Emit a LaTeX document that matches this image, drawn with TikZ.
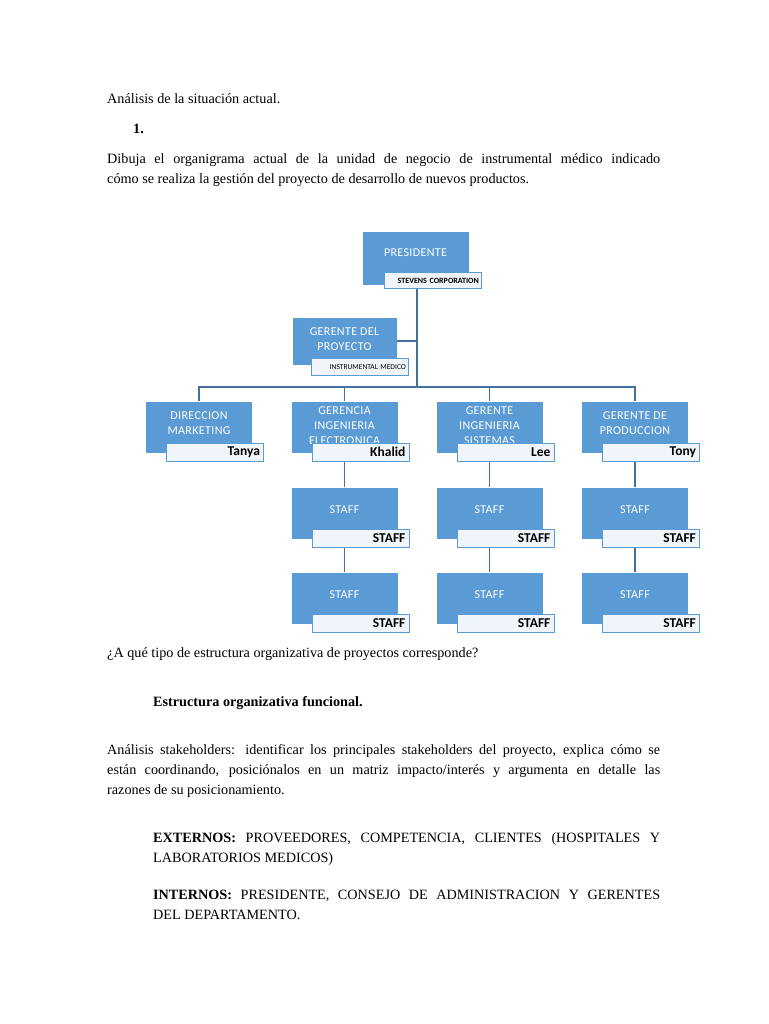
\documentclass[tikz,border=0pt]{standalone}
\usepackage{fontspec}
\setmainfont{Liberation Serif}
\newfontfamily\boxfont[LetterSpace=3]{Carlito}
\newfontfamily\namefont{Carlito}
\usetikzlibrary{positioning}
\definecolor{orgblue}{RGB}{91,155,213}
\definecolor{linkblue}{RGB}{65,113,156}
\definecolor{namefill}{RGB}{240,245,251}

\begin{document}
\begin{tikzpicture}[x=1pt, y=-1pt,
  orgbox/.style={fill=orgblue, draw=white, line width=0.6pt, minimum width=107pt, minimum height=52pt, inner sep=0pt},
  boxtxt/.style={text=white, font=\boxfont\fontsize{12}{15}\selectfont, align=center, inner sep=0pt},
  namebox/.style={draw=orgblue, fill=namefill, line width=0.8pt, anchor=north east, minimum height=18pt, text width=90pt, inner xsep=3.5pt, inner ysep=0pt, align=right, font=\namefont\bfseries\fontsize{13.5}{13.5}\selectfont},
  smallname/.style={namebox, minimum height=16pt, inner xsep=2pt, text width=93pt, font=\namefont\bfseries\fontsize{8}{8}\selectfont},
  link/.style={draw=linkblue, line width=1.3pt},
  para/.style={anchor=base west, inner sep=0pt, text width=553pt, align=justify, font=\fontsize{14.2}{20}\selectfont}]
  \fill[white] (0,0) rectangle (768,1024);
  \useasboundingbox (0,0) rectangle (768,1024);

  % Text above the chart
  \node (intro) [para] at (107,104) {Análisis de la situación actual.};
  \node (num) [anchor=base west, inner sep=0pt, font=\bfseries\fontsize{14.2}{20}\selectfont] at (133,134) {1.};
  \node (q1) [para] at (107,164) {Dibuja el organigrama actual de la unidad de negocio de instrumental médico indicado\linebreak cómo se realiza la gestión del proyecto de desarrollo de nuevos productos.};

  % Boxes of the chart
  \node (pres) [orgbox, minimum height=54pt] at (415.5,258) {};
  \node (gproy) [orgbox, minimum width=105pt, minimum height=48pt] at (344.5,341) {};
  \node (dirmkt) [orgbox] at (199,427.5) {};
  \node (gelec) [orgbox] at (344.5,427.5) {};
  \node (gsis) [orgbox] at (489.5,427.5) {};
  \node (gprod) [orgbox] at (635,427.5) {};
  \foreach \col/\x in {A/344.5,B/489.5,C/635} {
    \node (s\col1) [orgbox] at (\x,513.5) {};
    \node (s\col2) [orgbox] at (\x,598.5) {};
    \node (s\col1-t) [boxtxt] at ([yshift=4pt]s\col1.center) {STAFF};
    \node (s\col2-t) [boxtxt] at ([yshift=4pt]s\col2.center) {STAFF};
  }

  \node (pres-t) [boxtxt] at ([yshift=5pt]pres.center) {PRESIDENTE};
  \node (gproy-t) [boxtxt] at ([yshift=2pt]gproy.center) {GERENTE DEL\\PROYECTO};
  \node (dirmkt-t) [boxtxt] at ([yshift=4pt]dirmkt.center) {DIRECCION\\MARKETING};
  \node (gelec-t) [boxtxt] at ([yshift=2pt]gelec.center) {GERENCIA\\INGENIERIA\\ELECTRONICA};
  \node (gsis-t) [boxtxt] at ([yshift=2pt]gsis.center) {GERENTE\\INGENIERIA\\SISTEMAS};
  \node (gprod-t) [boxtxt] at ([yshift=4pt]gprod.center) {GERENTE DE\\PRODUCCION};

  % Connectors
  \coordinate (spine) at (417,387);
  \draw[link] (pres.south -| spine) -- (spine);
  \draw[link] (gproy.east) -- (gproy.east -| spine);
  \foreach \d in {dirmkt,gelec,gsis,gprod}
    \draw[link] (spine) -| (\d.north);
  \draw[link] (gelec.south) -- (sA1.north);
  \draw[link] (gsis.south) -- (sB1.north);
  \draw[link] (gprod.south) -- (sC1.north);
  \foreach \col in {A,B,C}
    \draw[link] (s\col1.south) -- (s\col2.north);

  % Name labels
  \node (pres-n) [smallname] at ([xshift=12pt,yshift=13pt]pres.south east) {STEVENS CORPORATION};
  \node (gproy-n) [smallname, font=\namefont\fontsize{7.5}{8}\selectfont, minimum height=17pt] at ([xshift=11pt,yshift=7pt]gproy.south east) {INSTRUMENTAL MEDICO};
  \node (dirmkt-n) [namebox] at ([xshift=11pt,yshift=11pt]dirmkt.south east) {Tanya};
  \node (gelec-n) [namebox] at ([xshift=11pt,yshift=11pt]gelec.south east) {Khalid};
  \node (gsis-n) [namebox] at ([xshift=11pt,yshift=11pt]gsis.south east) {Lee};
  \node (gprod-n) [namebox] at ([xshift=11pt,yshift=11pt]gprod.south east) {Tony};
  \foreach \col in {A,B,C} {
    \node (s\col1-n) [namebox] at ([xshift=11pt,yshift=11pt]s\col1.south east) {STAFF};
    \node (s\col2-n) [namebox] at ([xshift=11pt,yshift=11pt]s\col2.south east) {STAFF};
  }

  % Text below the chart
  \node (q2) [para] at (107,657) {¿A qué tipo de estructura organizativa de proyectos corresponde?};
  \node (ans) [anchor=base west, inner sep=0pt, font=\bfseries\fontsize{14.2}{20}\selectfont] at (153,706) {Estructura organizativa funcional.};
  \node (q3) [para] at (107,754) {Análisis stakeholders: identificar los principales stakeholders del proyecto, explica cómo se\linebreak están coordinando, posiciónalos en un matriz impacto/interés y argumenta en detalle las\linebreak razones de su posicionamiento.};
  \node (ext) [para, text width=507pt] at (153,842) {\textbf{EXTERNOS:} PROVEEDORES, COMPETENCIA, CLIENTES (HOSPITALES Y\linebreak LABORATORIOS MEDICOS)};
  \node (int) [para, text width=507pt] at (153,899) {\textbf{INTERNOS:} PRESIDENTE, CONSEJO DE ADMINISTRACION Y GERENTES\linebreak DEL DEPARTAMENTO.};
\end{tikzpicture}
\end{document}
